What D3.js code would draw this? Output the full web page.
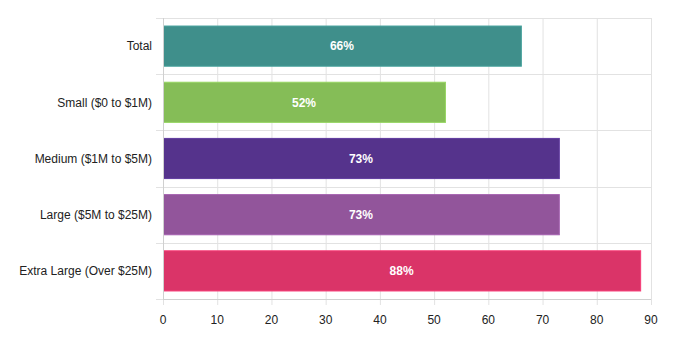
<!DOCTYPE html>
<html>
<head>
<meta charset="utf-8">
<script src="https://cdn.jsdelivr.net/npm/d3@7"></script>
<style>
  body { margin: 0; background: #fff; }
  svg text { font-family: "Liberation Sans", Arial, Helvetica, sans-serif; }
</style>
</head>
<body>
<div class="chart"></div>
<script>
// categories and their share, top to bottom
const categories = ["Total", "Small ($0 to $1M)", "Medium ($1M to $5M)", "Large ($5M to $25M)", "Extra Large (Over $25M)"];
const values = [66, 52, 73, 73, 88];
const barColors = ["#3f8f8b", "#85bd57", "#55338c", "#92559b", "#da3468"];
const xTicks = [0, 10, 20, 30, 40, 50, 60, 70, 80, 90];

const width = 684, height = 345;
const margin = { top: 18, right: 33, bottom: 46, left: 163 };
const innerW = width - margin.left - margin.right;
const innerH = height - margin.top - margin.bottom;

const svg = d3.select(".chart").append("svg")
    .attr("width", width)
    .attr("height", height);

const g = svg.append("g")
    .attr("transform", "translate(" + margin.left + "," + margin.top + ")");

const x = d3.scaleLinear().domain([0, 90]).range([0, innerW]);
const y = d3.scaleBand().domain(categories).range([0, innerH]).paddingInner(0.285).paddingOuter(0.143);

const gridColor = "#e2e2e2";

// vertical grid lines, running a little below the plot as tick marks
g.append("g")
    .selectAll("line")
    .data(xTicks)
    .enter()
    .append("line")
    .attr("x1", d => x(d) + 0.5)
    .attr("x2", d => x(d) + 0.5)
    .attr("y1", 0)
    .attr("y2", innerH + 6)
    .attr("stroke", gridColor);

// horizontal lines between categories, with small ticks on the left
const step = y.step();
const rowEdges = d3.range(categories.length + 1).map(i => i * innerH / categories.length);
g.append("g")
    .selectAll("line")
    .data(rowEdges)
    .enter()
    .append("line")
    .attr("x1", -7)
    .attr("x2", innerW)
    .attr("y1", d => Math.round(d) + 0.5)
    .attr("y2", d => Math.round(d) + 0.5)
    .attr("stroke", gridColor);

// bars
g.append("g")
    .selectAll("rect")
    .data(categories)
    .enter()
    .append("rect")
    .attr("x", 0.5)
    .attr("y", d => y(d))
    .attr("width", (d, i) => x(values[i]))
    .attr("height", y.bandwidth())
    .attr("fill", (d, i) => barColors[i])
    .attr("stroke", (d, i) => d3.color(barColors[i]).brighter(0.35))
    .attr("stroke-width", 1);

// value labels inside the bars
g.append("g")
    .selectAll("text")
    .data(categories)
    .enter()
    .append("text")
    .attr("x", (d, i) => x(values[i]) / 2)
    .attr("y", d => y(d) + y.bandwidth() / 2)
    .attr("dy", "0.35em")
    .attr("text-anchor", "middle")
    .attr("fill", "#fff")
    .attr("font-size", 12)
    .attr("font-weight", "bold")
    .text((d, i) => values[i] + "%");

// y axis line
g.append("line")
    .attr("x1", 0.5).attr("x2", 0.5)
    .attr("y1", 0).attr("y2", innerH)
    .attr("stroke", "#d0d0d0");
g.append("line")
    .attr("x1", 0).attr("x2", innerW)
    .attr("y1", innerH + 0.5).attr("y2", innerH + 0.5)
    .attr("stroke", "#d0d0d0");

// category labels
g.append("g")
    .selectAll("text")
    .data(categories)
    .enter()
    .append("text")
    .attr("x", -11)
    .attr("y", d => y(d) + y.bandwidth() / 2)
    .attr("dy", "0.35em")
    .attr("text-anchor", "end")
    .attr("fill", "#222")
    .attr("font-size", 12)
    .text(d => d);

// x tick labels
g.append("g")
    .selectAll("text")
    .data(xTicks)
    .enter()
    .append("text")
    .attr("x", d => x(d))
    .attr("y", innerH + 21)
    .attr("dy", "0.35em")
    .attr("text-anchor", "middle")
    .attr("fill", "#222")
    .attr("font-size", 12)
    .text(d => d);
</script>
</body>
</html>
